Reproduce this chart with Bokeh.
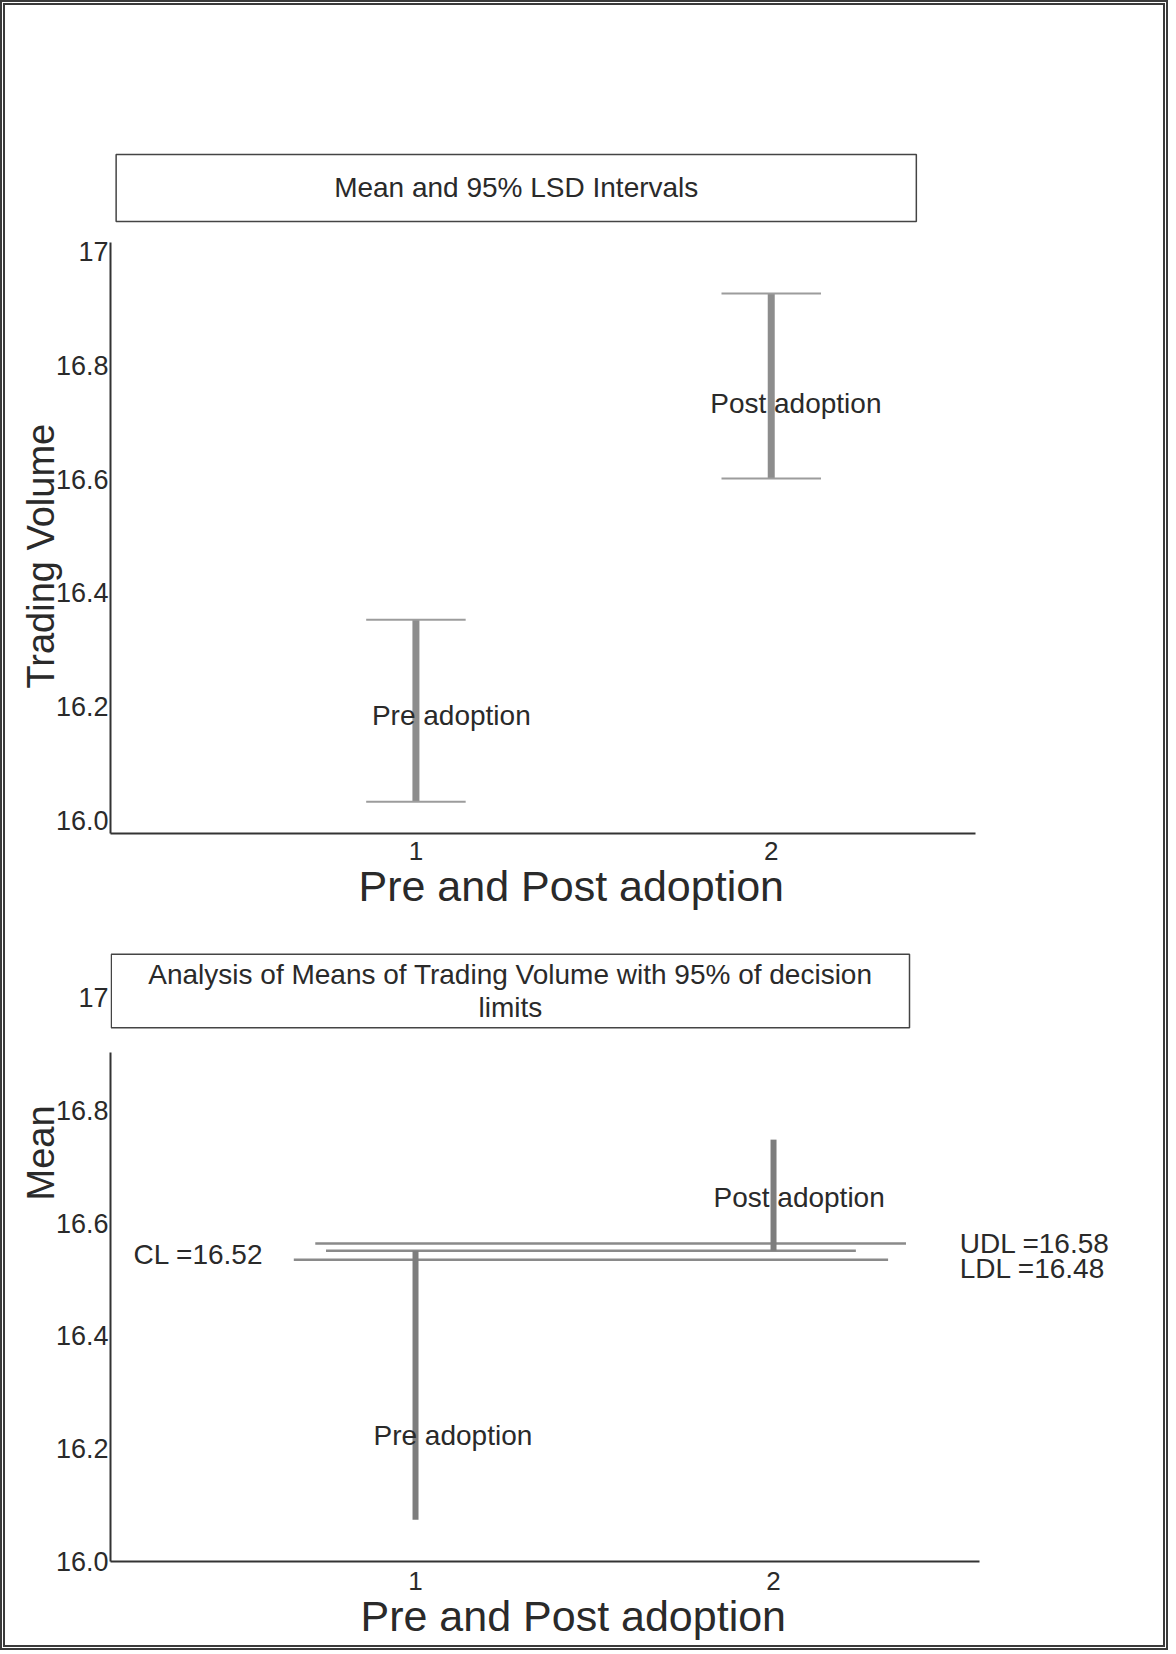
import math
from bokeh.plotting import figure
from bokeh.layouts import column
from bokeh.models import Label, FixedTicker, Range1d, LinearAxis, CustomJSTickFormatter, Title
from bokeh.core.properties import value
from bokeh.embed import file_html
from bokeh.resources import INLINE

# ---------------- data ----------------
groups = [1, 2]
group_names = ["Pre adoption", "Post adoption"]

# Chart 1: Mean and 95% LSD intervals
lsd_lower = [16.033, 16.601]
lsd_upper = [16.353, 16.926]

# Chart 2: Analysis of means
anom_means = [16.074, 16.748]
center_line = 16.551
upper_limit = 16.564
lower_limit = 16.535
cl_text = "CL =16.52"
udl_text = "UDL =16.58"
ldl_text = "LDL =16.48"

x_ticks = [1, 2]
y_ticks_top = [16.0, 16.2, 16.4, 16.6, 16.8, 17.0]
y_ticks_bottom = [16.0, 16.2, 16.4, 16.6, 16.8, 17.0]

title_top = "Mean and 95% LSD Intervals"
title_bottom = "Analysis of Means of Trading Volume with 95% of decision\nlimits"
x_title = "Pre and Post adoption"
y_title_top = "Trading Volume"
y_title_bottom = "Mean"

# ---------------- style ----------------
FONT = "Liberation Sans"
TXT = "#2a2a2a"
AXC = "#333333"
fmt = CustomJSTickFormatter(code="return tick > 16.99 ? '17' : tick.toFixed(1);")


def base_style(p):
    p.xgrid.visible = False
    p.ygrid.visible = False
    p.outline_line_color = None
    p.background_fill_color = "white"
    p.border_fill_color = "white"


def plain_axis(ax, show_line=True):
    ax.axis_line_color = AXC if show_line else None
    ax.axis_line_width = 2
    ax.major_tick_line_color = None
    ax.minor_tick_line_color = None
    ax.major_tick_out = 0
    ax.major_tick_in = 0
    ax.minor_tick_out = 0
    ax.minor_tick_in = 0
    ax.major_label_text_font = FONT
    ax.major_label_text_font_size = "27px"
    ax.major_label_text_color = TXT


def x_axis(p, bounds, lab_standoff):
    ax = p.xaxis[0]
    plain_axis(ax)
    ax.ticker = FixedTicker(ticks=x_ticks)
    ax.bounds = bounds
    ax.major_label_text_font_size = "26px"
    ax.major_label_standoff = lab_standoff


def side_title(p, text, place, size, offset, standoff):
    t = Title(text=text, align="left", offset=offset, standoff=standoff,
              text_font=FONT, text_font_size=size, text_font_style="normal",
              text_color=TXT)
    p.add_layout(t, place)


# ---------------- chart 1 ----------------
p1 = figure(width=1158, height=925, title=None,
            x_range=Range1d(0.1404, 3.0674), y_range=Range1d(15.9772, 17.4323),
            output_backend="svg", toolbar_location=None,
            min_border_left=103, min_border_right=13,
            min_border_top=0, min_border_bottom=97)
base_style(p1)
x_axis(p1, (0.1404, 2.575), 8)
ya = p1.yaxis[0]
plain_axis(ya)
ya.ticker = FixedTicker(ticks=y_ticks_top)
ya.formatter = fmt
ya.bounds = (15.9772, 17.0158)
ya.major_label_standoff = 2
side_title(p1, y_title_top, "left", "38px", 145, -19)
side_title(p1, x_title, "below", "43px", 248, -6)

means_top = [(a + b) / 2 for a, b in zip(lsd_lower, lsd_upper)]
cap = 0.14
p1.segment(x0=groups, y0=lsd_lower, x1=groups, y1=lsd_upper,
           line_width=7, line_color="#8d8d8d")
p1.segment(x0=[g - cap for g in groups], y0=lsd_upper,
           x1=[g + cap for g in groups], y1=lsd_upper,
           line_width=2, line_color="#9c9c9c")
p1.segment(x0=[g - cap for g in groups], y0=lsd_lower,
           x1=[g + cap for g in groups], y1=lsd_lower,
           line_width=2, line_color="#9c9c9c")
p1.text(x=groups, y=means_top, text=group_names,
        x_offset=[-44, -61], y_offset=[5, 17],
        text_align="left", text_baseline="middle",
        text_font=value(FONT), text_font_size="28px", text_color=TXT)

p1.add_layout(Label(x=1.2823, y=17.1116, text=title_top,
                    text_align="center", text_baseline="middle",
                    text_font=FONT, text_font_size="28px", text_color=TXT,
                    border_line_color="#444444", border_line_width=1.5,
                    background_fill_color="white",
                    padding=dict(left=218, right=218, top=18, bottom=18)))

# ---------------- chart 2 ----------------
p2 = figure(width=1158, height=715, title=None,
            x_range=Range1d(0.148, 3.053), y_range=Range1d(16.0, 17.1188),
            output_backend="svg", toolbar_location=None,
            min_border_left=105, min_border_right=13,
            min_border_top=0, min_border_bottom=84)
base_style(p2)
x_axis(p2, (0.148, 2.575), 10)
yb = p2.yaxis[0]          # axis line only
plain_axis(yb)
yb.ticker = FixedTicker(ticks=[])
yb.bounds = (16.0, 16.9025)
yb.major_label_standoff = 0
yl = LinearAxis(ticker=FixedTicker(ticks=y_ticks_bottom), formatter=fmt,
                bounds=(16.0, 17.0))
plain_axis(yl, show_line=False)
yl.major_label_standoff = 2
p2.add_layout(yl, "left")
side_title(p2, y_title_bottom, "left", "38px", 361, -19)
side_title(p2, x_title, "below", "43px", 250, -6)

limits = [upper_limit, center_line, lower_limit]
p2.segment(x0=[0.72, 0.75, 0.66], y0=limits, x1=[2.37, 2.23, 2.32], y1=limits,
           line_width=2.5, line_color="#8a8a8a")
p2.segment(x0=groups, y0=[center_line] * len(groups), x1=groups, y1=anom_means,
           line_width=6, line_color="#7d7d7d")
mid2 = [(center_line + m) / 2 for m in anom_means]
p2.text(x=groups, y=mid2, text=group_names,
        x_offset=[-42, -60], y_offset=[50, 2],
        text_align="left", text_baseline="middle",
        text_font=value(FONT), text_font_size="28px", text_color=TXT)
p2.text(x=[0.5754], y=[center_line], text=[cl_text], y_offset=[4],
        text_align="right", text_baseline="middle",
        text_font=value(FONT), text_font_size="28px", text_color=TXT)
p2.text(x=[2.52, 2.52], y=[upper_limit, lower_limit], text=[udl_text, ldl_text],
        y_offset=[0, 9], text_align="left", text_baseline="middle",
        text_font=value(FONT), text_font_size="28px", text_color=TXT)

p2.add_layout(Label(x=1.265, y=17.0115, text=title_bottom,
                    text_align="center", text_baseline="middle",
                    text_font=FONT, text_font_size="28px", text_color=TXT,
                    text_line_height=1.05,
                    border_line_color="#444444", border_line_width=1.5,
                    background_fill_color="white",
                    padding=dict(left=37, right=37, top=5, bottom=5)))

layout = column(p1, p2, styles={"border": "5px double #3a3a3a"})
open("out.html", "w").write(file_html(layout, INLINE))
